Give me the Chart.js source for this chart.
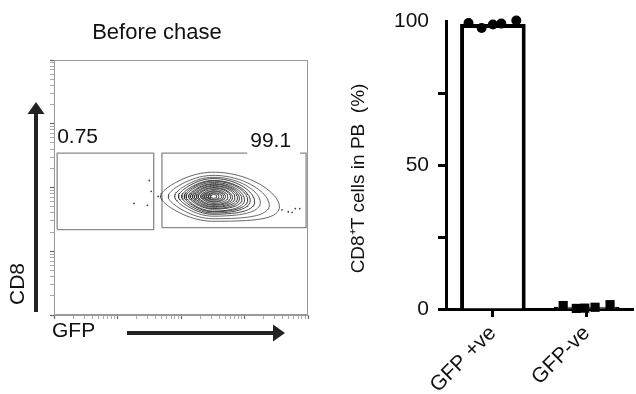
<!DOCTYPE html>
<html>
<head>
<meta charset="utf-8">
<script src="https://cdn.jsdelivr.net/npm/chart.js@4.4.0/dist/chart.umd.min.js"></script>
<style>
  html, body { margin: 0; padding: 0; background: #fff; overflow: hidden; width: 636px; height: 394px; }
  #flow { position: absolute; left: 0; top: 0; }
  #bars { position: absolute; left: 330px; top: 0; }
</style>
</head>
<body>
<canvas id="flow" width="330" height="394"></canvas>
<canvas id="bars" width="310" height="394"></canvas>
<script>
// --- flow plot data (log10 fluorescence units) ---
const flowTitle = 'Before chase';
const axisDecades = [1, 2, 3, 4, 5];
const minorSteps = [1, 2, 3, 4, 5, 6, 7, 8, 9];
const gateNames = ['0.75', '99.1'];
const gateX = [[1.05, 2.57], [2.70, 4.97]];
const gateY = [[2.34, 3.54], [2.37, 3.54]];
const centreX = 3.51;
const centreY = 2.86;
const ringLeft   = [0.83, 0.71, 0.61, 0.55, 0.50, 0.46, 0.43, 0.39, 0.36, 0.33, 0.30, 0.27, 0.24, 0.20, 0.17, 0.14, 0.11, 0.08, 0.05];
const ringRight  = [1.04, 0.88, 0.74, 0.65, 0.58, 0.54, 0.49, 0.45, 0.41, 0.38, 0.34, 0.30, 0.27, 0.23, 0.19, 0.16, 0.13, 0.09, 0.055];
const ringTop    = [0.38, 0.33, 0.30, 0.28, 0.25, 0.24, 0.22, 0.20, 0.19, 0.17, 0.16, 0.14, 0.13, 0.11, 0.09, 0.08, 0.06, 0.05, 0.03];
const ringBottom = [0.39, 0.35, 0.31, 0.28, 0.26, 0.24, 0.23, 0.20, 0.19, 0.17, 0.16, 0.14, 0.13, 0.11, 0.09, 0.08, 0.06, 0.05, 0.03];
const ringDip    = [0.16, 0.13, 0.09, 0.08, 0.06, 0.055, 0.05, 0.04, 0.03, 0.024, 0.016, 0.016, 0.008, 0.008, 0, 0, 0, 0, 0];
const strayX = [2.50, 2.53, 2.26, 2.47, 2.64, 4.59, 4.69, 4.80, 4.87, 4.75];
const strayY = [3.11, 2.94, 2.75, 2.72, 2.86, 2.65, 2.62, 2.67, 2.67, 2.61];

// --- bar chart data ---
const groups = ['GFP +ve', 'GFP-ve'];
const groupMeans = [99.2, 0.76];
const posValues  = [99.5, 97.8, 99.0, 99.3, 100.4];
const posOffsets = [-0.26, -0.12, 0, 0.09, 0.25];
const negValues  = [1.2, 0.2, 0.3, 0.6, 1.5];
const negOffsets = [-0.25, -0.11, -0.02, 0.09, 0.25];
const yTicks = [0, 25, 50, 75, 100];
const yLabelled = [0, 50, 100];

const FONT = '"Liberation Sans", Arial, Helvetica, sans-serif';
Chart.defaults.font.family = FONT;
Chart.defaults.color = '#111';

const lo = 10 ** axisDecades[0];
const hi = 10 ** axisDecades[axisDecades.length - 1];

const logTicks = [];
axisDecades.slice(0, -1).forEach(d => {
  minorSteps.forEach(m => logTicks.push({ value: m * 10 ** d, major: m === 1 }));
});
logTicks.push({ value: hi, major: true });

function ringPoints(i) {
  const pts = [];
  for (let k = 0; k <= 90; k++) {
    const t = k / 90 * 2 * Math.PI;
    const c = Math.cos(t), s = Math.sin(t);
    const rx = c >= 0 ? ringRight[i] : ringLeft[i];
    const ry = s >= 0 ? ringTop[i] : ringBottom[i];
    const pinch = c < 0 ? 1 - 0.35 * c * c : 1;
    const u = centreX + rx * c;
    const v = centreY + ry * s * pinch - ringDip[i] * Math.max(c, 0) ** 2;
    pts.push({ x: 10 ** u, y: 10 ** v });
  }
  return pts;
}

function gatePoints(g) {
  const [x0, x1] = gateX[g], [y0, y1] = gateY[g];
  return [[x0, y0], [x0, y1], [x1, y1], [x1, y0], [x0, y0]].map(p => ({ x: 10 ** p[0], y: 10 ** p[1] }));
}

const flowSets = [];
ringLeft.forEach((_, i) => flowSets.push({
  data: ringPoints(i), showLine: true, pointRadius: 0,
  borderColor: i < 3 ? '#555' : '#2e2e2e', borderWidth: 0.9, tension: 0
}));
gateNames.forEach((_, g) => flowSets.push({
  data: gatePoints(g), showLine: true, pointRadius: 0, borderColor: '#8a8a8a', borderWidth: 1.3, tension: 0
}));
flowSets.push({
  data: strayX.map((v, i) => ({ x: 10 ** v, y: 10 ** strayY[i] })),
  pointRadius: 0.9, backgroundColor: '#444', borderWidth: 0
});

const logAxis = (pos) => ({
  type: 'logarithmic', position: pos, min: lo, max: hi,
  afterBuildTicks: s => { s.ticks = logTicks.map(t => ({ ...t })); },
  afterFit: s => { if (pos === 'bottom') s.height = 6; else s.width = 6; },
  ticks: { display: false },
  grid: {
    drawOnChartArea: false, tickLength: 4,
    tickColor: c => (c.tick && c.tick.major ? '#666' : '#aaa'),
    tickWidth: c => (c.tick && c.tick.major ? 1.2 : 1)
  },
  border: { display: true, color: '#999', width: 1 }
});

function arrow(ctx, x0, y0, x1, y1) {
  const ang = Math.atan2(y1 - y0, x1 - x0);
  const hl = 12, hw = 8.5;
  ctx.beginPath();
  ctx.moveTo(x0, y0);
  ctx.lineTo(x1 - hl * Math.cos(ang), y1 - hl * Math.sin(ang));
  ctx.lineWidth = 4;
  ctx.stroke();
  ctx.beginPath();
  ctx.moveTo(x1, y1);
  ctx.lineTo(x1 - hl * Math.cos(ang) + hw * Math.sin(ang), y1 - hl * Math.sin(ang) - hw * Math.cos(ang));
  ctx.lineTo(x1 - hl * Math.cos(ang) - hw * Math.sin(ang), y1 - hl * Math.sin(ang) + hw * Math.cos(ang));
  ctx.closePath();
  ctx.fill();
}

const flowDecor = {
  id: 'flowDecor',
  afterDraw(chart) {
    const { ctx, chartArea: a, scales: { x, y } } = chart;
    ctx.save();
    ctx.strokeStyle = '#999';
    ctx.lineWidth = 1;
    ctx.strokeRect(a.left + 0.5, a.top + 0.5, a.width - 1, a.height - 1);

    ctx.font = '22px ' + FONT;
    ctx.fillStyle = '#111';
    ctx.textAlign = 'center';
    ctx.fillText(flowTitle, 157, 39);

    ctx.font = '21px ' + FONT;
    const gy0 = y.getPixelForValue(10 ** gateY[0][1]);
    ctx.textAlign = 'left';
    ctx.fillText(gateNames[0], x.getPixelForValue(10 ** gateX[0][0]), gy0 - 10);

    const gy1 = y.getPixelForValue(10 ** gateY[1][1]);
    const rx = x.getPixelForValue(10 ** gateX[1][1]);
    const w = ctx.measureText(gateNames[1]).width;
    ctx.fillStyle = '#fff';
    ctx.fillRect(rx - w - 18, gy1 - 22, w + 12, 24);
    ctx.fillStyle = '#111';
    ctx.textAlign = 'right';
    ctx.fillText(gateNames[1], rx - 15, gy1 - 6);

    ctx.textAlign = 'left';
    ctx.fillText('GFP', a.left - 2, a.bottom + 22);
    ctx.save();
    ctx.translate(a.left - 30, a.bottom - 31);
    ctx.rotate(-Math.PI / 2);
    ctx.textAlign = 'center';
    ctx.fillText('CD8', 0, 0);
    ctx.restore();

    ctx.strokeStyle = '#222';
    ctx.fillStyle = '#222';
    arrow(ctx, a.left - 18, a.bottom - 3, a.left - 18, a.top + 42);
    arrow(ctx, 127, a.bottom + 18, 285, a.bottom + 18);
    ctx.restore();
  }
};

new Chart(document.getElementById('flow'), {
  type: 'scatter',
  data: { datasets: flowSets },
  options: {
    responsive: false, animation: false,
    layout: { padding: { left: 48, top: 60, right: 22, bottom: 73 } },
    plugins: { legend: { display: false }, tooltip: { enabled: false } },
    scales: { x: logAxis('bottom'), y: logAxis('left') }
  },
  plugins: [flowDecor]
});

// --- bar chart (linear index axis so bars and points share one scale) ---
new Chart(document.getElementById('bars'), {
  type: 'bar',
  data: {
    datasets: [
      {
        data: groupMeans.map((v, i) => ({ x: i, y: v })),
        backgroundColor: '#fff', borderColor: '#000', borderWidth: 4,
        barPercentage: 0.70, categoryPercentage: 1, grouped: false, order: 2
      },
      {
        type: 'scatter', clip: false, order: 1,
        data: posValues.map((v, i) => ({ x: posOffsets[i], y: v })),
        pointStyle: 'circle', pointRadius: 5, backgroundColor: '#000', borderWidth: 0
      },
      {
        type: 'scatter', clip: false, order: 1,
        data: negValues.map((v, i) => ({ x: 1 + negOffsets[i], y: v })),
        pointStyle: 'rect', pointRadius: 6.5, backgroundColor: '#000', borderWidth: 0
      }
    ]
  },
  options: {
    responsive: false, animation: false,
    layout: { padding: { left: 0, top: 19, right: 2, bottom: 0 } },
    plugins: { legend: { display: false }, tooltip: { enabled: false } },
    scales: {
      x: {
        type: 'linear', position: 'bottom', min: -0.5, max: 1.5, offset: false,
        afterBuildTicks: s => { s.ticks = groups.map((_, i) => ({ value: i })); },
        afterFit: s => { s.height = 85; },
        grid: { drawOnChartArea: false, offset: false, tickLength: 8, tickWidth: 3, tickColor: '#000' },
        border: { display: true, color: '#000', width: 3 },
        ticks: {
          minRotation: 45, maxRotation: 45, padding: 4, font: { size: 21 }, color: '#111',
          callback: v => groups[v]
        }
      },
      y: {
        min: 0, max: 100,
        afterBuildTicks: s => { s.ticks = yTicks.map(v => ({ value: v })); },
        afterFit: s => { s.width = 116; },
        grid: {
          drawOnChartArea: false, tickLength: 8, tickWidth: 3,
          tickColor: c => (c.tick && c.tick.value === 100 ? 'rgba(0,0,0,0)' : '#000')
        },
        border: { display: true, color: '#000', width: 3 },
        ticks: {
          padding: 9, font: { size: 21 }, color: '#111',
          callback: v => (yLabelled.includes(v) ? String(v) : '')
        },
        title: {
          display: true, text: 'CD8\u207AT cells in PB  (%)     ',
          font: { size: 19 }, color: '#111', padding: { top: 17, bottom: 0 }
        }
      }
    }
  }
});
</script>
</body>
</html>
